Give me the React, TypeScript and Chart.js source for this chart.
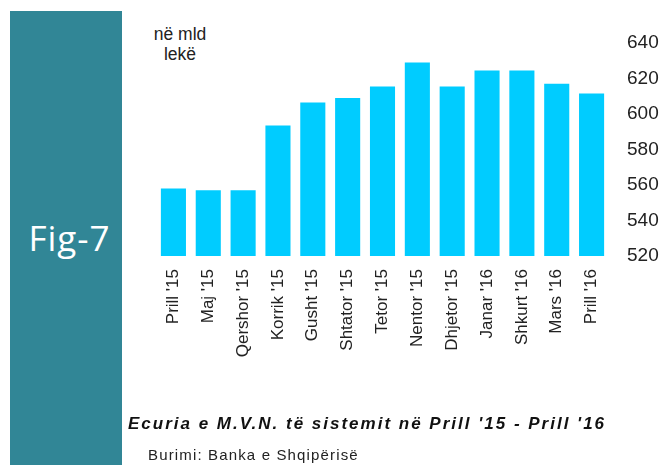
import React, { useEffect, useRef } from "react";
import { Chart, registerables } from "chart.js";

Chart.register(...registerables);

const categories = [
  "Prill '15", "Maj '15", "Qershor '15", "Korrik '15", "Gusht '15", "Shtator '15",
  "Tetor '15", "Nentor '15", "Dhjetor '15", "Janar '16", "Shkurt '16", "Mars '16", "Prill '16",
];
const values = [558, 557, 557, 593.5, 606.5, 609, 615.5, 629, 615.5, 624.5, 624.5, 617, 611.5];
const yMin = 520;
const yMax = 640;
const yStep = 20;

const W = 665;
const H = 465;

export default function App() {
  const ref = useRef<HTMLCanvasElement | null>(null);

  useEffect(() => {
    if (!ref.current) return;
    const chart = new Chart(ref.current, {
      type: "bar",
      data: {
        labels: categories,
        datasets: [
          {
            data: values,
            backgroundColor: "#00CCFF",
            borderWidth: 0,
            categoryPercentage: 1,
            barPercentage: 0.72,
          },
        ],
      },
      options: {
        responsive: false,
        animation: false,
        devicePixelRatio: 1,
        layout: { padding: { left: 156, top: 43, right: 0, bottom: 0 } },
        plugins: { legend: { display: false }, tooltip: { enabled: false }, title: { display: false } },
        scales: {
          x: {
            grid: { display: false, drawTicks: false },
            border: { display: false },
            ticks: {
              autoSkip: false,
              maxRotation: 90,
              minRotation: 90,
              padding: 13,
              color: "#222",
              font: { family: "'Liberation Sans', Arial, sans-serif", size: 17 },
            },
            afterFit: (axis: any) => {
              axis.height = H - 256;
            },
          },
          y: {
            position: "right",
            min: yMin,
            max: yMax,
            grid: { display: false, drawTicks: false },
            border: { display: false },
            ticks: {
              stepSize: yStep,
              padding: 18,
              color: "#222",
              font: { family: "'Liberation Sans', Arial, sans-serif", size: 19 },
            },
            afterFit: (axis: any) => {
              axis.width = W - 609;
            },
          },
        },
      },
    });
    return () => chart.destroy();
  }, []);

  return (
    <div style={{ position: "absolute", left: 0, top: 0, width: W, height: H, background: "#fff", overflow: "hidden" }}>
      <div style={{ position: "absolute", left: 10, top: 11, width: 112, height: H - 11, background: "#318696" }} />
      <div
        style={{
          position: "absolute", left: 10, width: 119, top: 220, fontSize: 35, lineHeight: "35px",
          fontFamily: "'Open Sans', sans-serif", color: "#fff", textAlign: "center", letterSpacing: 1,
        }}
      >
        Fig-7
      </div>
      <div
        style={{
          position: "absolute", left: 130, width: 100, top: 24, fontSize: 17.5, lineHeight: "20px",
          fontFamily: "'Liberation Sans', Arial, sans-serif", color: "#222", textAlign: "center",
        }}
      >
        në mld
        <br />
        lekë
      </div>
      <canvas ref={ref} width={W} height={H} style={{ position: "absolute", left: 0, top: 0 }} />
      <div
        style={{
          position: "absolute", left: 128, top: 414, fontSize: 17, lineHeight: "20px", fontWeight: "bold",
          fontStyle: "italic", fontFamily: "'Liberation Sans', Arial, sans-serif", color: "#111", letterSpacing: 2,
          whiteSpace: "nowrap",
        }}
      >
        Ecuria e M.V.N. të sistemit në Prill '15 - Prill '16
      </div>
      <div
        style={{
          position: "absolute", left: 148, top: 446, fontSize: 15, lineHeight: "18px",
          fontFamily: "'Liberation Sans', Arial, sans-serif", color: "#222", letterSpacing: 1.15,
          whiteSpace: "nowrap",
        }}
      >
        Burimi: Banka e Shqipërisë
      </div>
    </div>
  );
}
